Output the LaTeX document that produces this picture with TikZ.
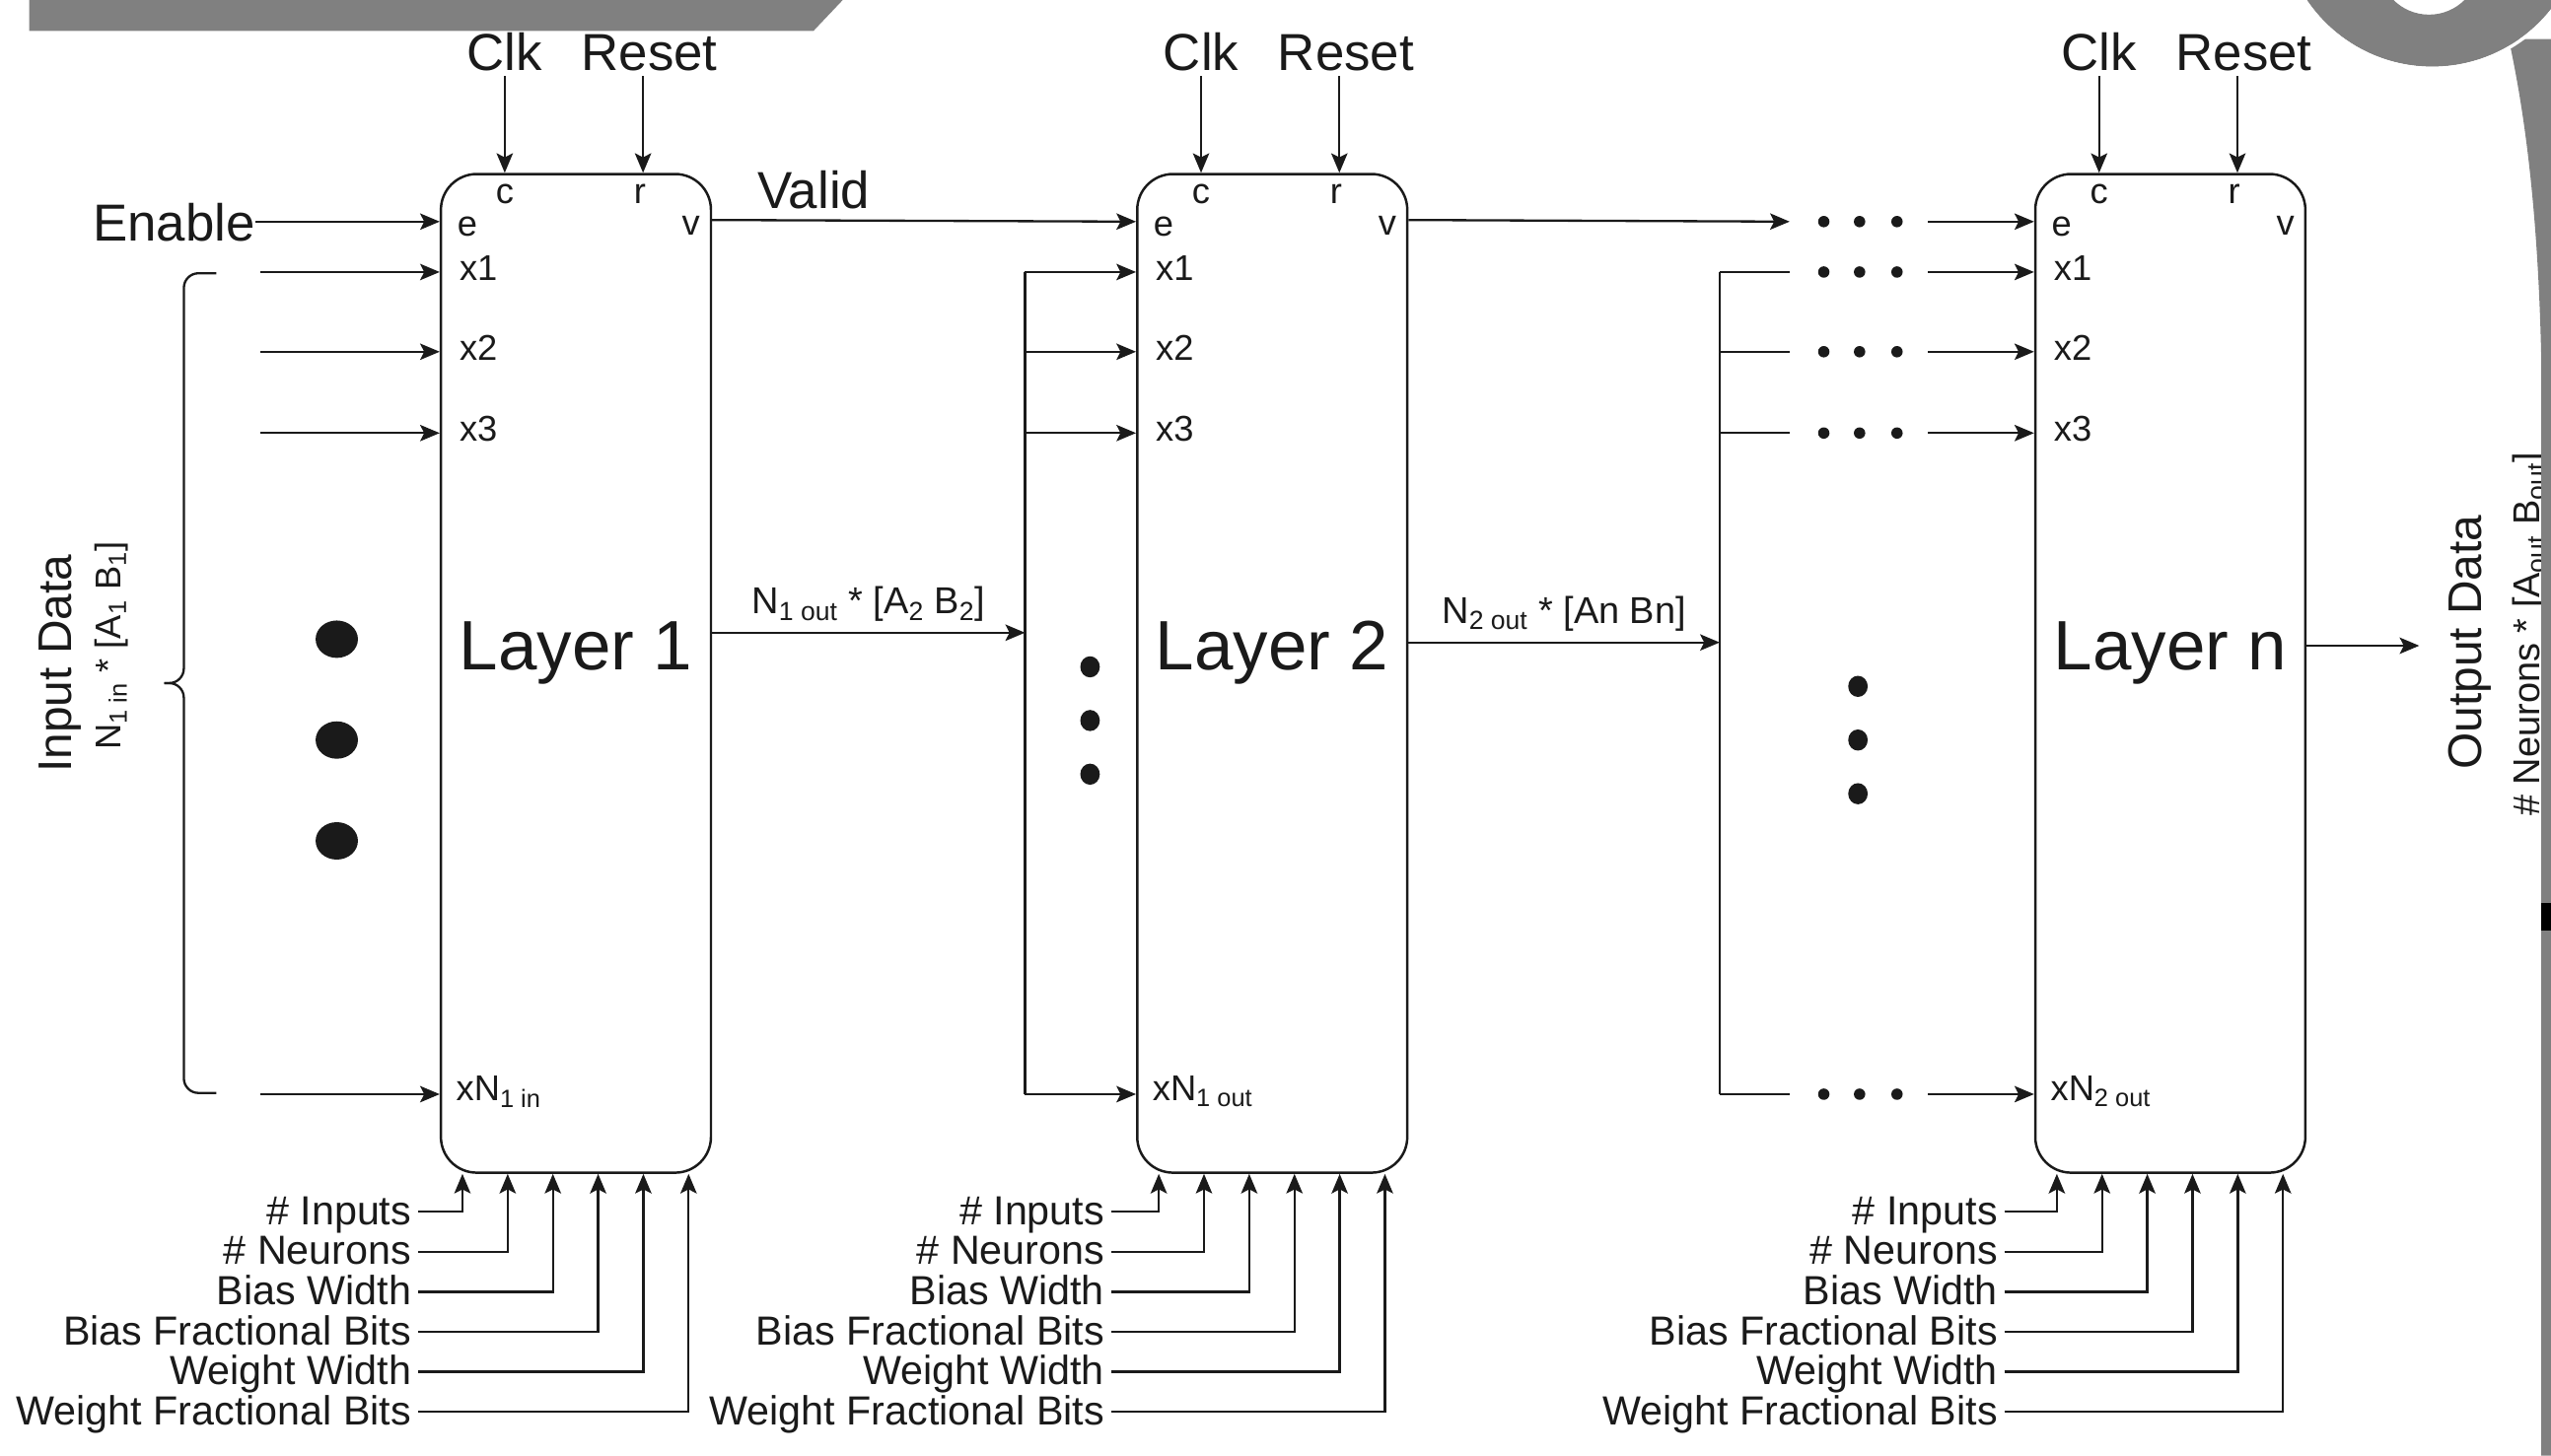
\documentclass[tikz,border=0pt]{standalone}
\usepackage{fontspec}
\setmainfont{Liberation Sans}
\usepackage{xcolor}
\usepackage{tikz}
\usetikzlibrary{arrows.meta,calc}
\definecolor{ink}{HTML}{1A1A1A}
\definecolor{slate}{HTML}{808080}
\newcommand{\fs}[1]{\fontsize{#1}{#1}\selectfont}

\begin{document}
\begin{tikzpicture}[x=1pt,y=-1pt,
    layer/.style={draw=ink,line width=1.5pt,rounded corners=22pt,minimum width=166pt,
                  minimum height=614pt,inner sep=0},
    arr/.style={-{Stealth[length=12pt,width=10pt,inset=2.5pt]},line width=1.4pt,color=ink},
    wire/.style={line width=1.4pt,color=ink},
    big/.style={font=\fs{32},inner sep=0,text=ink},
    port/.style={font=\fs{22},inner sep=0,text=ink},
    param/.style={font=\fs{25},anchor=east,inner ysep=0,inner xsep=4pt,text height=17pt,
                  text depth=1pt,text=ink},
    lname/.style={font=\fs{43},inner sep=0,anchor=base,text=ink},
    bus/.style={font=\fs{23},inner sep=0,text=ink},
    side/.style={rotate=90,inner sep=0,anchor=base,text=ink}
  ]
    \useasboundingbox (0,0) rectangle (1568,895);
    \fill[white] (0,0) rectangle (1568,895);

    \node[layer] (L1) at (354,414) {};
    \node[layer] (L2) at (782,414) {};
    \node[layer] (L3) at (1334,414) {};
    \node[lname] (t1) at (354,412) {Layer 1};
    \node[lname] (t2) at (782,412) {Layer 2};
    \node[lname] (t3) at (1334,412) {Layer n};

    \foreach \ly/\lsub/\lend in {L1/{1 in}/253,L2/{1 out}/679,L3/{2 out}/1228} {
      \coordinate (\ly-c) at ($(\ly.north west)+(40,0)$);
      \coordinate (\ly-r) at ($(\ly.north west)+(125,0)$);
      \coordinate (\ly-e) at ($(\ly.north west)+(0,30)$);
      \coordinate (\ly-v) at ($(\ly.north east)+(0,29)$);
      \coordinate (\ly-x1) at ($(\ly.north west)+(0,61)$);
      \coordinate (\ly-x2) at ($(\ly.north west)+(0,110)$);
      \coordinate (\ly-x3) at ($(\ly.north west)+(0,160)$);
      \coordinate (\ly-xn) at ($(\ly.south west)+(0,-49)$);
      \node[big,anchor=base] (\ly-clk) at ($(\ly-c)+(0,-63)$) {Clk};
      \node[big,anchor=base] (\ly-rst) at ($(\ly-r)+(4,-63)$) {Reset};
      \draw[arr,shorten <=3pt] (\ly-clk.south -| \ly-c) -- (\ly-c);
      \draw[arr,shorten <=3pt] (\ly-rst.south -| \ly-r) -- (\ly-r);
      \node[port,anchor=base] (\ly-cl) at ($(\ly-c)+(0,19)$) {c};
      \node[port,anchor=base] (\ly-rl) at ($(\ly-r)+(-2,19)$) {r};
      \node[port,anchor=base] (\ly-el) at ($(\ly-e)+(17,9)$) {e};
      \node[port,anchor=base] (\ly-vl) at ($(\ly-v)+(-13,9)$) {v};
      \node[port,anchor=base west] (\ly-x1l) at ($(\ly-x1)+(12,5)$) {x1};
      \node[port,anchor=base west] (\ly-x2l) at ($(\ly-x2)+(12,5)$) {x2};
      \node[port,anchor=base west] (\ly-x3l) at ($(\ly-x3)+(12,5)$) {x3};
      \node[port,anchor=base west] (\ly-xnl) at ($(\ly-xn)+(10,4)$) {xN\textsubscript{\lsub}};
      \foreach \t [count=\k from 0] in {\# Inputs,\# Neurons,Bias Width,Bias Fractional Bits,
                                        Weight Width,Weight Fractional Bits} {
        \node[param] (\ly-p\k) at (\lend+4,745+24.6*\k) {\t};
        \draw[arr] (\ly-p\k.east) -| ($(\ly.south west)+(14+27.8*\k,0)$);
      }
    }

    \node[big,anchor=base east] (en) at (157,148) {Enable};
    \draw[arr] (en.east |- L1-e) -- (L1-e);
    \coordinate (inx) at (160,0);
    \foreach \p in {x1,x2,x3,xn}
      \draw[arr] (inx |- L1-\p) -- (L1-\p);
    \draw[wire,rounded corners=9pt] (133,168) -- (113,168) -- (113,420) -- (101,420);
    \draw[wire,rounded corners=9pt] (133,672) -- (113,672) -- (113,420) -- (101,420);
    \foreach \y in {393,455,517}
      \fill[ink] (207,\y) ellipse (13 and 11.5);
    \node[side,font=\fs{29}] (ind) at (44,408) {Input Data};
    \node[side,font=\fs{22}] (inf) at (74,397) {N\textsubscript{1 in} * [A\textsubscript{1} B\textsubscript{1}]};

    \draw[arr] (L1-v) -- (L2-e) node[big,pos=.24,above=6pt] (vl) {Valid};

    \coordinate (b1) at (630,389);
    \draw[arr] (L1.east |- b1) -- (b1)
      node[bus,midway,above=6pt] (b1l) {N\textsubscript{1 out} * [A\textsubscript{2} B\textsubscript{2}]};
    \draw[wire] (b1 |- L2-x1) -- (b1 |- L2-xn);
    \foreach \p in {x1,x2,x3,xn}
      \draw[arr] (b1 |- L2-\p) -- (L2-\p);
    \foreach \y in {410,443,476}
      \fill[ink] (670,\y) ellipse (6 and 6.5);

    \coordinate (b2) at (1057,395);
    \draw[arr] (L2.east |- b2) -- (b2)
      node[bus,midway,above=6pt] (b2l) {N\textsubscript{2 out} * [An Bn]};
    \draw[wire] (b2 |- L3-x1) -- (b2 |- L3-xn);
    \coordinate (gl) at (1100,0);
    \coordinate (gr) at (1185,0);
    \draw[arr] (L2-v) -- (gl |- L3-e);
    \draw[arr] (gr |- L3-e) -- (L3-e);
    \foreach \p in {x1,x2,x3,xn} {
      \draw[wire] (b2 |- L3-\p) -- (gl |- L3-\p);
      \draw[arr] (gr |- L3-\p) -- (L3-\p);
    }
    \foreach \p in {e,x1,x2,x3,xn}
      \foreach \dx in {1121,1143,1166}
        \fill[ink] (\dx,0 |- L3-\p) circle (3.5);
    \foreach \y in {422,455,488}
      \fill[ink] (1142,\y) ellipse (6 and 6.5);

    \coordinate (out) at (1487,397);
    \draw[arr] (L3.east |- out) -- (out);
    \node[side,font=\fs{29}] (outd) at (1525,395) {Output Data};
    \node[side,font=\fs{23}] (outf) at (1561,390) {\# Neurons * [A\textsubscript{out} B\textsubscript{out}]};

    \fill[slate] (18,0) -- (518,0) -- (500,19) -- (18,19) -- cycle;
    \fill[slate] (1542,24) .. controls (1552,70) and (1560,130) .. (1562,220)
      -- (1562,895) -- (1568,895) -- (1568,24) -- cycle;
    \fill[slate,even odd rule] (1495,-52) circle (93) (1493,-22) circle (31);
    \draw[white,line width=2pt] (1495,-52) circle (94);
    \fill[black] (1562,555) rectangle (1568,572);
\end{tikzpicture}
\end{document}
